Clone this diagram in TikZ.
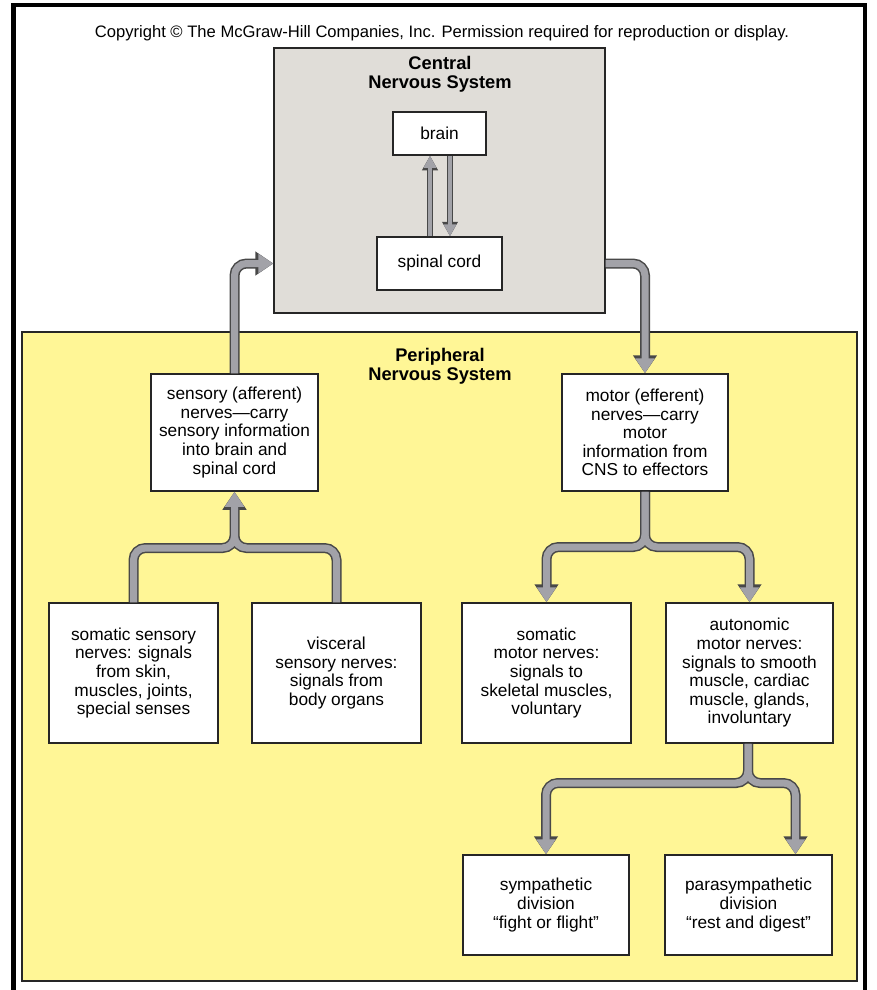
\documentclass[tikz,border=0pt]{standalone}
\usepackage{fontspec}
\setmainfont{Liberation Sans}
\usetikzlibrary{arrows.meta}
\definecolor{cnsgray}{RGB}{224,221,216}
\definecolor{pnsyellow}{RGB}{255,246,150}
\definecolor{shaft}{RGB}{162,162,168}
\definecolor{rim}{RGB}{72,72,72}

\begin{document}
\begin{tikzpicture}[x=1pt, y=-1pt,
  region/.style={draw=black!85, line width=1.4pt, inner sep=0pt},
  box/.style={draw=black!85, line width=1.5pt, fill=white, align=center, inner sep=0pt,
    font=\fontsize{17.3}{18.6}\selectfont},
  title/.style={align=center, font=\bfseries\fontsize{18.3}{18.6}\selectfont},
  nerverim/.style={draw=rim, line width=10pt, rounded corners=12pt,
    -{Triangle[length=18pt,width=23pt]}},
  nervefill/.style={draw=shaft, line width=7pt, rounded corners=12pt,
    -{Triangle[length=15pt,width=18.5pt]}},
  nerve/.style={nervefill, preaction={nerverim}},
  smallnerve/.style={draw=shaft, line width=4pt, -{Triangle[length=12pt,width=12pt]},
    preaction={draw=rim, line width=6pt, -{Triangle[length=14.5pt,width=15pt]}}}]
\useasboundingbox (0,0) rectangle (877,990);

% frame and copyright line
\draw[line width=4.5pt] (13.5,995) -- (13.5,5) -- (865,5) -- (865,995);
\node[font=\fontsize{16.6}{17}\selectfont] (copy) at (442,33)
  {Copyright © The McGraw-Hill Companies, Inc. Permission required for reproduction or display.};

% central nervous system
\node[region, fill=cnsgray, minimum width=331pt, minimum height=265pt] (cns) at (439.5,180.5) {};
\node[title] (cnstitle) at (440,74) {Central\\Nervous System};
\node[box, minimum width=93pt, minimum height=43pt] (brain) at (439.5,133.5) {brain};
\node[box, minimum width=125pt, minimum height=53pt] (spinal) at (439.5,263.5) {spinal cord};
\draw[smallnerve] ([xshift=-9.5pt]spinal.north) -- ([xshift=-9.5pt]brain.south);
\draw[smallnerve] ([xshift=10.5pt]brain.south) -- ([xshift=10.5pt]spinal.north);

% peripheral nervous system
\node[region, fill=pnsyellow, minimum width=835pt, minimum height=649pt] (pns) at (439.5,656.5) {};
\node[title] (pnstitle) at (440,366) {Peripheral\\Nervous System};

\node[box, minimum width=167pt, minimum height=117pt] (sens) at (234.5,432.5)
  {sensory (afferent)\\nerves---carry\\sensory information\\into brain and\\spinal cord};
\node[box, minimum width=166pt, minimum height=117pt] (motor) at (645,432.5)
  {motor (efferent)\\nerves---carry\\motor\\information from\\CNS to effectors};

\node[box, minimum width=169pt, minimum height=140pt] (soms) at (133.5,673)
  {somatic sensory\\nerves: signals\\from skin,\\muscles, joints,\\special senses};
\node[box, minimum width=169pt, minimum height=140pt] (viss) at (336.5,673)
  {visceral\\sensory nerves:\\signals from\\body organs};
\node[box, minimum width=169pt, minimum height=140pt] (somm) at (546.5,673)
  {somatic\\motor nerves:\\signals to\\skeletal muscles,\\voluntary};
\node[box, minimum width=167pt, minimum height=140pt] (auto) at (749.5,673)
  {autonomic\\motor nerves:\\signals to smooth\\muscle, cardiac\\muscle, glands,\\involuntary};

\node[box, minimum width=166pt, minimum height=100pt] (sym) at (546,905)
  {sympathetic\\division\\“fight or flight”};
\node[box, minimum width=167pt, minimum height=100pt] (para) at (748.5,905)
  {parasympathetic\\division\\“rest and digest”};

% into and out of the CNS
\draw[nerve] (sens.north) |- (cns.west |- spinal);
\draw[nerve] (cns.east |- spinal) -| (motor.north);

% sensory branches join
\coordinate (sj) at (sens.south |- 0,548);
\draw[nerve] (soms.north) |- (sj) -- ++(0,-20) (viss.north) |- (sj) -- (sens.south);

% motor branches split
\coordinate (mj) at (motor.south |- 0,547);
\foreach \lay in {nerverim, nervefill}{
  \draw[\lay] (motor.south) -- (mj) -| (somm.north);
  \draw[\lay] (motor.south) -- (mj) -| (auto.north);
}

% autonomic divisions
\coordinate (aj) at (748,783);
\foreach \lay in {nerverim, nervefill}{
  \draw[\lay] (auto.south -| aj) -- (aj) -| (sym.north);
  \draw[\lay] (auto.south -| aj) -- (aj) -| ([xshift=47pt]para.north);
}
\end{tikzpicture}
\end{document}
